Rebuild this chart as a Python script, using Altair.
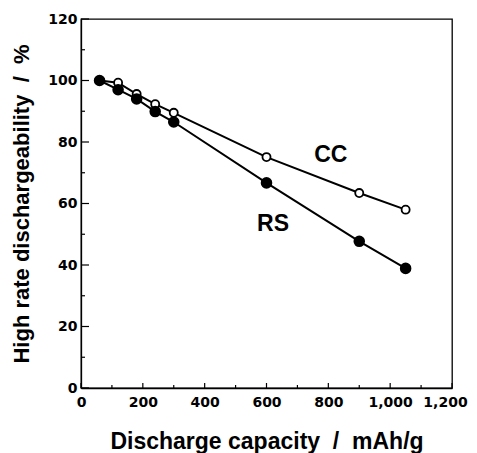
import altair as alt
import pandas as pd

# Data
capacity = [60, 120, 180, 240, 300, 600, 900, 1050]
cc_values = [100.0, 99.3, 95.6, 92.3, 89.5, 75.1, 63.4, 58.0]
rs_values = [100.0, 97.0, 94.0, 89.9, 86.5, 66.7, 47.7, 38.9]

label_text = ["CC", "RS"]
label_x = [808, 621]
label_y = [75.8, 53.3]

x_major = [0, 200, 400, 600, 800, 1000, 1200]
x_minor = [100, 300, 500, 700, 900, 1100]
y_major = [0, 20, 40, 60, 80, 100, 120]
y_minor = [10, 30, 50, 70, 90, 110]

x_title = "Discharge capacity\u00a0\u00a0/\u00a0\u00a0mAh/g"
y_title = "High rate dischargeability\u00a0\u00a0/\u00a0\u00a0%"

rows = []
for s, vals in (("CC", cc_values), ("RS", rs_values)):
    for c, v in zip(capacity, vals):
        rows.append({"series": s, "capacity": c, "value": v})
df = pd.DataFrame(rows)
labels_df = pd.DataFrame({"text": label_text, "x": label_x, "y": label_y})

LFONT = "DejaVu Sans"
TFONT = "Liberation Sans"
W, H = 371, 369

xscale = alt.Scale(domain=[0, 1200], nice=False, zero=False)
yscale = alt.Scale(domain=[0, 120], nice=False, zero=False)

x_axis = alt.Axis(
    values=x_major, ticks=False, grid=False, labelFontSize=14, labelFontWeight="bold",
    labelFont=LFONT, labelColor="black", labelPadding=7, title=x_title,
    titleFontSize=23, titleFontWeight="bold", titleFont=TFONT, titleColor="black",
    titlePadding=21, domainColor="black", domainWidth=1.3,
    labelExpr="format(datum.value, ',')", labelFlush=False,
    labelOffset={"condition": {"test": "datum.value == 1200", "value": -7}, "value": 0},
)
y_axis = alt.Axis(
    values=y_major, ticks=False, grid=False, labelFontSize=14, labelFontWeight="bold",
    labelFont=LFONT, labelColor="black", labelPadding=4, title=y_title,
    titleFontSize=22, titleFontWeight="bold", titleFont=TFONT, titleColor="black",
    titlePadding=14, domainColor="black", domainWidth=1.3,
)

base = alt.Chart(df)

lines = base.mark_line(color="black", strokeWidth=2).encode(
    x=alt.X("capacity:Q", scale=xscale, axis=x_axis),
    y=alt.Y("value:Q", scale=yscale, axis=y_axis),
    detail="series:N",
)

points = base.mark_point(filled=False, opacity=1, stroke="black", strokeWidth=1.8).encode(
    x=alt.X("capacity:Q", scale=xscale, axis=x_axis),
    y=alt.Y("value:Q", scale=yscale, axis=y_axis),
    fill=alt.Fill("series:N", scale=alt.Scale(domain=["CC", "RS"], range=["white", "black"]), legend=None),
    size=alt.Size("series:N", scale=alt.Scale(domain=["CC", "RS"], range=[65, 95]), legend=None),
    shape=alt.value("circle"),
)

texts = alt.Chart(labels_df).mark_text(
    font=TFONT, fontSize=23, fontWeight="bold", color="black", align="center", baseline="middle"
).encode(
    x=alt.X("x:Q", scale=xscale, axis=x_axis),
    y=alt.Y("y:Q", scale=yscale, axis=y_axis),
    text="text:N",
)

def yticks(vals, length):
    return alt.Chart(pd.DataFrame({"v": vals})).mark_rule(color="black", strokeWidth=1.2).encode(
        y=alt.Y("v:Q", scale=yscale, axis=y_axis),
        x=alt.value(0), x2=alt.value(length),
    )

def xticks(vals, length):
    return alt.Chart(pd.DataFrame({"v": vals})).mark_rule(color="black", strokeWidth=1.2).encode(
        x=alt.X("v:Q", scale=xscale, axis=x_axis),
        y=alt.value(H), y2=alt.value(H - length),
    )

chart = alt.layer(
    lines, yticks(y_major, 8), yticks(y_minor, 4), xticks(x_major, 5), xticks(x_minor, 3),
    points, texts,
).properties(
    width=W, height=H,
    background="white",
    autosize=alt.AutoSizeParams(type="none"),
    padding={"left": 73, "top": 11, "right": 17, "bottom": 65},
).configure_view(
    stroke="black", strokeWidth=1.3
)

chart.save("out.html", embed_options={"renderer": "svg", "actions": False})
